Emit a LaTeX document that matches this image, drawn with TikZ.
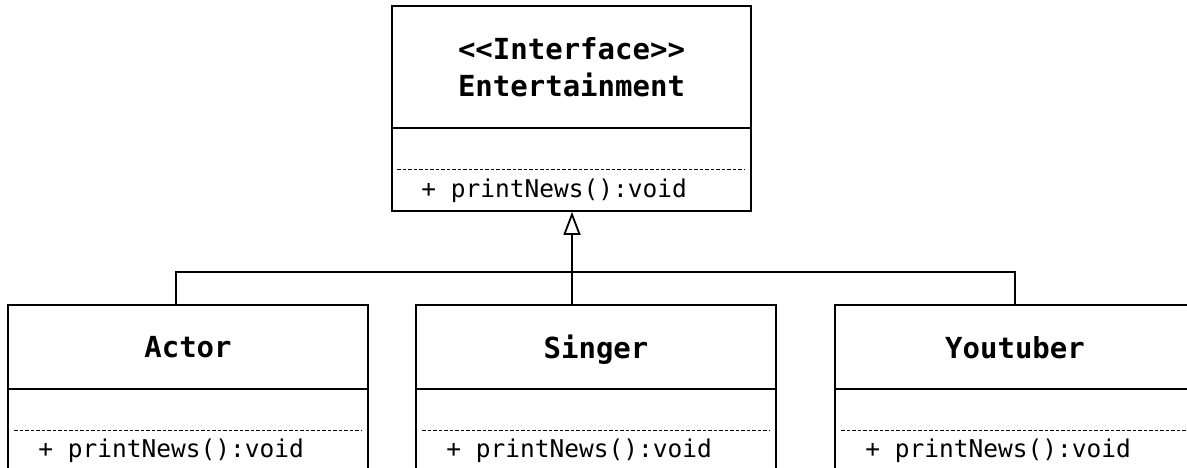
\documentclass[tikz,border=0pt]{standalone}
\usepackage{fontspec}
\setmonofont{DejaVu Sans Mono}
\usetikzlibrary{arrows.meta,positioning}

\begin{document}
\begin{tikzpicture}[x=1pt,y=-1pt]
        \tikzstyle{every node}+=[inner sep=0pt]
        \tikzstyle{head}=[draw,line width=1.8pt,minimum width=360pt,minimum height=84pt,align=center,text depth=0pt,font=\ttfamily\bfseries\fontsize{29}{37}\selectfont]
        \tikzstyle{body}=[draw,line width=1.8pt,minimum width=360pt,minimum height=140pt]
        \tikzstyle{method}=[anchor=west,font=\ttfamily\fontsize{24.5}{28}\selectfont]
        \tikzstyle{sep}=[line width=1pt,dash pattern=on 3.5pt off 2pt]
        \useasboundingbox (0,0) rectangle (1187,468);
        \clip (0,0) rectangle (1187,468);
        % interface
        \node [head,minimum width=359pt,minimum height=122pt] (ent) at (571.5,67) {<<Interface>>\\Entertainment};
        \node [body,minimum width=359pt,minimum height=83pt,below=-1.8pt of ent] (entops) {};
        \draw [sep] ([xshift=6pt,yshift=-42pt]entops.north west) -- ([xshift=-7pt,yshift=-42pt]entops.north east);
        \node [method] (entm) at ([xshift=30pt,yshift=-64pt]entops.north west) {+ printNews():void};
        % classes
        \node [head] (actor) at (188,347) {Actor};
        \node [body,below=-1.8pt of actor] (actorops) {};
        \draw [sep] ([xshift=7pt,yshift=-42pt]actorops.north west) -- ([xshift=-7pt,yshift=-42pt]actorops.north east);
        \node [method] (actorm) at ([xshift=31pt,yshift=-63pt]actorops.north west) {+ printNews():void};
        \node [head] (singer) at (596,347) {Singer};
        \node [body,below=-1.8pt of singer] (singerops) {};
        \draw [sep] ([xshift=7pt,yshift=-42pt]singerops.north west) -- ([xshift=-7pt,yshift=-42pt]singerops.north east);
        \node [method] (singerm) at ([xshift=31pt,yshift=-63pt]singerops.north west) {+ printNews():void};
        \node [head] (youtuber) at (1015,347) {Youtuber};
        \node [body,below=-1.8pt of youtuber] (youtuberops) {};
        \draw [sep] ([xshift=7pt,yshift=-42pt]youtuberops.north west) -- ([xshift=-7pt,yshift=-42pt]youtuberops.north east);
        \node [method] (youtuberm) at ([xshift=31pt,yshift=-63pt]youtuberops.north west) {+ printNews():void};
        % realization
        \coordinate (bus) at (572,272);
        \coordinate (busl) at (176,272);
        \coordinate (busr) at (1015,272);
        \draw [line width=1.8pt] (busl |- actor.north) -- (busl) -- (busr) -- (busr |- youtuber.north);
        \draw [line width=1.8pt] (bus |- singer.north) -- (bus);
        \draw [line width=1.8pt,-{Triangle[open,width=17pt,length=23pt,line width=1.8pt]}] (bus) -- (bus |- entops.south);
\end{tikzpicture}
\end{document}
